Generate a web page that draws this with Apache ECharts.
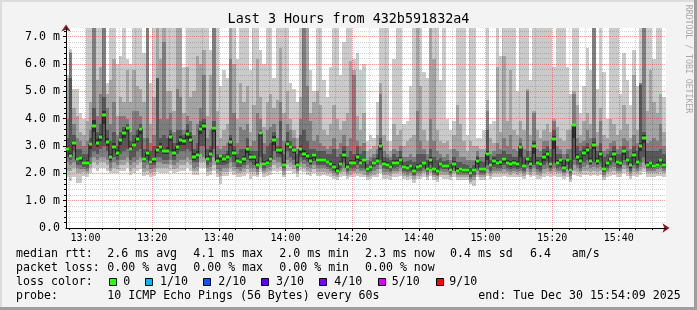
<!DOCTYPE html>
<html><head><meta charset="utf-8">
<script src="https://cdn.jsdelivr.net/npm/echarts@6/dist/echarts.min.js"></script>
<style>html,body{margin:0;padding:0;background:#f3f3f3}#c{width:697px;height:310px}</style>
</head><body><div id="c"></div><script>
// ---- data (ms) ----  column i covers minute [54+i, 55+i] after 12:00
const firstStepStart = 54;
const rangeStart = 54 + 9/60, rangeEnd = 234 + 9/60;
const ping10 = [5.6,6.55,5.1,5.1,4.2,4.0,7.5,7.5,7.5,7.5,7.5,7.5,5.3,7.5,7.5,6.0,6.3,7.5,6.2,6.0,7.5,7.5,7.5,6.4,7.5,5.3,7.5,7.5,7.5,7.5,
7.5,7.5,7.5,7.5,7.5,5.9,7.5,7.5,7.5,7.5,7.5,7.5,7.5,6.5,7.5,7.5,5.2,5.8,5.5,7.5,7.5,6.2,7.5,7.5,7.5,5.8,7.5,7.5,6.5,6.0,
7.5,7.5,5.5,7.5,7.5,7.5,7.5,5.3,5.1,4.6,7.5,7.5,7.5,5.8,5.0,7.5,7.5,5.4,4.8,5.9,7.5,7.5,5.6,6.8,7.5,7.5,6.2,6.4,5.8,6.0,
3.2,3.4,3.3,4.6,7.5,7.5,7.5,3.2,6.2,7.5,7.5,3.8,3.9,5.2,7.5,7.5,7.5,5.7,5.5,7.5,7.5,7.5,5.4,7.5,4.0,3.6,3.9,7.5,7.5,7.5,
3.4,7.5,7.5,3.3,3.3,3.6,7.5,3.8,3.9,7.5,6.3,7.5,7.5,7.5,7.5,5.0,7.5,7.5,7.5,5.4,7.5,7.5,7.5,7.5,7.5,7.5,5.9,7.5,7.5,7.5,
5.9,4.9,7.5,7.5,4.2,5.2,6.6,5.8,7.5,5.1,7.5,5.7,4.0,7.5,7.5,7.5,4.9,6.4,5.4,4.5,6.5,5.2,7.5,7.5,7.5,7.5,6.2,7.5,7.5,4.8];
const ping9 = [5.5,6.45,4.4,4.1,3.5,3.4,3.9,4.6,7.5,5.4,5.9,7.5,4.9,5.4,6.2,4.1,4.8,4.6,5.8,4.6,5.8,5.2,5.1,4.6,7.5,3.8,4.8,7.5,6.2,7.5,
5.0,5.0,4.3,7.5,7.5,4.2,5.9,4.8,5.0,6.3,6.0,6.5,4.1,5.6,7.5,4.3,3.3,3.6,3.8,7.5,6.0,4.0,5.3,4.6,5.2,3.5,4.5,6.2,4.8,3.7,
4.6,4.9,4.4,4.7,6.6,4.2,5.0,4.0,3.6,3.3,4.8,7.5,7.4,4.2,4.6,5.0,4.5,3.6,3.4,3.8,4.5,4.0,3.6,3.9,4.2,6.1,5.8,4.1,3.6,4.2,
2.8,2.9,3.0,3.4,5.3,3.4,3.2,2.8,3.8,3.4,3.6,3.0,3.2,3.3,3.4,7.5,5.2,3.6,3.2,7.5,6.2,3.6,3.2,3.1,3.2,2.9,3.4,4.5,3.8,3.2,
2.8,3.2,3.0,3.0,2.9,2.9,4.7,3.3,3.1,5.9,3.5,6.3,3.9,5.8,3.6,3.4,3.9,3.6,5.1,3.4,4.3,3.6,3.3,3.6,3.8,3.5,4.0,3.7,3.3,3.2,
3.6,3.6,5.0,4.5,3.4,3.9,4.2,3.8,7.5,3.5,4.4,3.4,3.3,4.0,3.8,3.4,3.6,4.5,3.8,3.3,5.6,3.6,5.3,7.5,4.3,5.8,4.6,4.2,4.9,3.5];
const ping8 = [4.0,6.4,3.8,3.3,3.2,3.0,3.2,3.6,7.5,4.1,4.9,7.5,4.4,3.8,4.6,3.4,4.1,4.1,4.0,3.5,4.3,4.3,4.1,3.3,7.5,3.1,3.4,5.5,4.0,6.8,
4.0,4.2,3.5,5.1,4.8,3.6,4.1,3.9,3.4,3.8,4.4,5.6,3.3,3.6,7.5,3.0,2.9,3.0,3.1,6.2,4.2,3.1,3.7,3.6,3.8,3.0,3.2,4.2,4.0,3.1,
3.6,3.7,3.8,3.3,4.6,3.2,3.8,3.6,3.3,2.9,4.0,7.5,5.2,3.9,3.2,3.4,3.1,3.0,2.9,3.0,3.3,2.9,3.1,3.4,3.0,3.3,5.6,3.2,3.0,3.1,
2.5,2.6,2.7,2.9,4.9,2.8,2.7,2.6,2.9,2.8,3.0,2.6,2.6,2.7,2.6,4.3,3.2,2.9,2.7,4.0,3.2,2.8,2.7,2.6,2.7,2.5,2.9,2.8,2.6,2.6,
2.5,2.5,2.5,2.8,2.6,2.6,4.3,2.7,2.8,3.1,2.9,3.3,3.0,3.4,2.9,2.8,3.3,2.9,5.0,2.8,4.2,2.9,2.8,3.2,3.2,2.9,3.9,3.0,2.9,2.7,
2.9,2.9,4.9,3.3,3.1,3.2,3.6,3.3,7.5,3.0,3.9,2.8,2.9,3.1,3.2,2.9,3.0,3.3,3.2,2.9,3.4,3.1,5.3,7.5,3.1,3.2,3.3,3.2,3.8,3.0];
const ping7 = [3.3,5.5,3.4,2.9,2.9,2.7,2.7,3.3,4.4,3.5,3.8,4.8,3.6,3.2,3.5,3.0,3.5,3.7,3.8,3.2,3.4,3.6,3.8,2.9,3.3,2.8,3.0,5.5,3.3,3.4,
3.3,3.6,3.1,3.6,3.6,3.4,3.8,3.5,2.9,3.1,3.9,4.0,2.9,3.0,3.9,2.7,2.7,2.7,2.8,3.4,3.0,2.7,2.9,2.9,3.3,2.8,2.8,2.8,3.6,2.7,
3.0,3.1,3.5,3.0,3.9,2.7,3.5,3.2,3.0,2.7,3.4,3.6,3.2,2.9,2.9,2.8,2.8,2.8,2.7,2.7,2.9,2.6,2.7,3.0,2.6,2.8,2.7,3.0,2.7,2.8,
2.35,2.45,2.55,2.7,3.3,2.6,2.55,2.5,2.7,2.6,2.8,2.4,2.45,2.5,2.4,2.7,2.7,2.7,2.5,2.9,2.6,2.5,2.55,2.45,2.5,2.35,2.6,2.4,2.4,2.35,
2.3,2.2,2.3,2.65,2.45,2.4,3.6,2.5,2.65,2.7,2.7,2.8,2.7,2.7,2.6,2.6,3.1,2.6,2.8,2.6,3.2,2.6,2.6,2.9,3.0,2.6,3.6,2.7,2.7,2.5,
2.7,2.5,3.8,3.0,2.8,3.0,3.1,2.9,3.3,2.8,3.1,2.6,2.7,2.8,3.0,2.7,2.7,3.0,2.8,2.6,3.0,2.8,5.25,3.5,2.8,2.8,2.8,2.8,2.9,2.7];
const ping6 = [3.0,2.75,3.2,2.6,2.65,2.45,2.48,3.15,3.95,3.25,3.45,4.3,3.3,2.7,3.1,2.85,3.3,3.6,3.72,3.0,3.15,3.4,3.7,2.6,2.85,2.5,2.6,2.95,3.1,2.9,
2.95,3.45,2.9,3.1,3.35,3.3,3.6,3.35,2.75,2.8,3.75,3.85,2.65,2.85,3.75,2.55,2.68,2.6,2.7,3.28,2.85,2.55,2.5,2.62,3.0,2.7,2.68,2.4,3.52,2.45,
2.5,2.65,3.35,2.92,2.95,2.4,3.2,3.05,2.92,2.42,3.0,2.85,2.75,2.55,2.75,2.58,2.56,2.58,2.5,2.45,2.35,2.2,2.45,2.8,2.35,2.5,2.48,2.72,2.5,2.58,
2.25,2.32,2.45,2.55,3.1,2.45,2.4,2.32,2.5,2.48,2.6,2.3,2.3,2.35,2.15,2.35,2.38,2.45,2.25,2.6,2.25,2.15,2.42,2.35,2.35,2.2,2.45,2.2,2.25,2.2,
2.2,2.1,2.2,2.55,2.25,2.22,2.8,2.38,2.55,2.48,2.5,2.6,2.48,2.45,2.48,2.45,3.05,2.35,2.6,2.45,3.1,2.48,2.42,2.7,2.82,2.42,3.35,2.48,2.56,2.3,
2.58,2.2,3.8,2.7,2.55,2.85,2.95,2.55,3.15,2.55,2.82,2.25,2.45,2.62,2.82,2.5,2.45,2.9,2.58,2.38,2.78,2.5,3.1,3.4,2.4,2.45,2.35,2.4,2.58,2.4];
const ping5 = [2.8,2.55,3.0,2.45,2.45,2.32,2.3,2.9,3.5,2.95,3.2,3.8,3.0,2.5,2.85,2.65,3.05,3.3,3.5,2.8,2.95,3.15,3.45,2.45,2.65,2.35,2.4,2.75,2.85,2.7,
2.7,3.2,2.65,2.85,3.05,3.05,3.25,3.1,2.5,2.55,3.45,3.6,2.45,2.6,3.5,2.38,2.5,2.42,2.5,3.0,2.62,2.38,2.34,2.42,2.75,2.5,2.5,2.22,3.35,2.28,
2.32,2.45,3.05,2.75,2.72,2.22,2.95,2.85,2.75,2.25,2.75,2.6,2.52,2.36,2.58,2.4,2.4,2.4,2.33,2.27,2.17,2.02,2.27,2.58,2.15,2.3,2.3,2.5,2.3,2.4,
2.1,2.15,2.32,2.38,2.85,2.28,2.25,2.15,2.3,2.32,2.42,2.15,2.12,2.2,2.0,2.15,2.2,2.3,2.1,2.38,2.08,2.0,2.28,2.2,2.2,2.05,2.27,2.02,2.1,2.05,
2.05,1.95,2.05,2.35,2.08,2.08,2.5,2.22,2.35,2.3,2.32,2.4,2.3,2.25,2.3,2.25,2.6,2.2,2.4,2.25,2.7,2.3,2.25,2.45,2.55,2.25,2.9,2.3,2.38,2.12,
2.4,2.05,3.3,2.5,2.36,2.62,2.72,2.36,2.9,2.36,2.6,2.1,2.28,2.45,2.6,2.32,2.28,2.68,2.4,2.2,2.55,2.32,2.8,3.1,2.25,2.3,2.2,2.25,2.4,2.25];
const ping4 = [2.6,2.5,2.8,2.3,2.3,2.25,2.2,2.6,2.8,2.7,2.9,3.0,2.8,2.4,2.6,2.5,2.7,2.8,2.9,2.5,2.6,2.8,2.9,2.4,2.5,2.3,2.3,2.6,2.6,2.5,
2.5,2.8,2.5,2.7,2.8,2.8,2.9,2.8,2.4,2.4,3.0,3.0,2.3,2.4,2.9,2.3,2.3,2.3,2.35,2.6,2.4,2.25,2.25,2.3,2.5,2.4,2.3,2.15,2.6,2.2,
2.3,2.4,2.8,2.6,2.6,2.2,2.8,2.6,2.5,2.2,2.6,2.5,2.4,2.3,2.45,2.3,2.3,2.3,2.25,2.2,2.1,2.0,2.2,2.4,2.1,2.2,2.2,2.3,2.2,2.2,
2.05,2.1,2.25,2.3,2.5,2.2,2.15,2.1,2.2,2.25,2.3,2.1,2.05,2.1,1.95,2.1,2.1,2.2,2.05,2.3,2.0,1.95,2.2,2.15,2.15,2.0,2.2,2.0,2.05,2.0,
2.0,1.85,1.95,2.2,2.0,2.0,2.3,2.1,2.25,2.2,2.2,2.3,2.2,2.15,2.2,2.15,2.2,2.1,2.3,2.15,2.3,2.15,2.1,2.3,2.4,2.2,2.4,2.2,2.25,2.05,
2.3,2.0,2.5,2.3,2.2,2.4,2.5,2.3,2.4,2.3,2.4,2.05,2.2,2.3,2.4,2.2,2.2,2.5,2.3,2.1,2.3,2.2,2.4,2.6,2.2,2.2,2.2,2.25,2.3,2.2];
const ping3 = [2.4,2.3,2.4,2.2,2.15,2.15,2.1,2.35,2.6,2.5,2.6,2.6,2.5,2.2,2.4,2.3,2.5,2.5,2.6,2.3,2.4,2.5,2.6,2.2,2.3,2.15,2.2,2.4,2.4,2.35,
2.35,2.5,2.3,2.4,2.5,2.5,2.6,2.5,2.2,2.25,2.7,2.6,2.2,2.25,2.6,2.15,2.1,2.2,2.2,2.4,2.25,2.15,2.1,2.2,2.3,2.2,2.2,2.05,2.4,2.1,
2.2,2.25,2.5,2.4,2.4,2.1,2.5,2.4,2.3,2.1,2.4,2.35,2.25,2.2,2.3,2.2,2.2,2.2,2.15,2.1,2.0,1.95,2.1,2.2,2.0,2.1,2.1,2.15,2.1,2.1,
1.95,2.0,2.1,2.15,2.3,2.05,2.05,2.0,2.1,2.1,2.2,2.0,1.95,2.0,1.9,2.0,2.0,2.1,1.95,2.15,1.95,1.9,2.1,2.05,2.05,1.95,2.1,1.95,1.95,1.95,
1.95,1.8,1.85,2.1,1.95,1.95,2.15,2.0,2.1,2.1,2.1,2.15,2.1,2.05,2.1,2.05,2.1,2.0,2.2,2.05,2.2,2.05,2.0,2.15,2.2,2.1,2.2,2.1,2.1,2.0,
2.15,1.9,2.3,2.2,2.1,2.25,2.3,2.2,2.25,2.2,2.25,1.95,2.1,2.2,2.25,2.1,2.1,2.3,2.2,2.0,2.2,2.1,2.25,2.4,2.1,2.1,2.1,2.15,2.2,2.1];
const ping2 = [2.1,2.1,2.2,2.0,2.0,2.05,2.0,2.2,2.4,2.3,2.4,2.4,2.3,2.1,2.2,2.15,2.3,2.3,2.4,2.1,2.2,2.3,2.4,2.05,2.1,2.0,2.05,2.2,2.2,2.2,
2.2,2.3,2.15,2.2,2.3,2.3,2.4,2.3,2.1,2.1,2.4,2.4,2.05,2.1,2.3,2.0,1.9,2.05,2.05,2.2,2.1,2.0,2.0,2.05,2.15,2.05,2.05,1.95,2.2,2.0,
2.05,2.1,2.3,2.2,2.25,1.95,2.3,2.25,2.15,2.0,2.25,2.2,2.1,2.05,2.15,2.05,2.05,2.05,2.0,2.0,1.9,1.85,2.0,2.05,1.9,1.95,2.0,2.0,2.0,1.95,
1.85,1.9,1.95,2.0,2.15,1.95,1.95,1.9,2.0,2.0,2.05,1.9,1.85,1.9,1.8,1.9,1.9,2.0,1.85,2.0,1.85,1.8,1.95,1.95,1.95,1.85,2.0,1.85,1.85,1.85,
1.85,1.7,1.75,1.95,1.85,1.85,2.0,1.9,2.0,2.0,2.0,2.0,2.0,1.95,2.0,1.95,2.0,1.9,2.05,1.95,2.05,1.95,1.9,2.0,2.05,2.0,2.05,2.0,2.0,1.9,
2.0,1.8,2.1,2.05,2.0,2.1,2.1,2.05,2.1,2.05,2.1,1.85,2.0,2.05,2.1,2.0,2.0,2.15,2.05,1.9,2.05,2.0,2.1,2.2,2.0,2.0,2.0,2.0,2.05,2.0];
const ping1 = [1.85,1.72,1.85,1.65,1.65,1.9,1.85,2.0,2.2,2.1,2.2,2.2,2.1,2.0,2.0,2.0,2.1,2.1,2.2,1.95,2.0,2.1,2.15,1.9,1.95,1.85,1.9,2.05,2.0,2.0,
2.0,2.1,2.0,2.05,2.1,2.1,2.2,2.1,1.95,1.95,2.2,2.2,1.9,1.95,2.1,1.85,1.6,1.9,1.9,2.05,1.95,1.85,1.85,1.9,2.0,1.8,1.9,1.85,2.05,1.85,
1.9,1.95,2.1,2.05,2.1,1.85,2.1,2.1,2.0,1.85,2.1,2.05,1.95,1.9,2.0,1.9,1.9,1.95,1.9,1.85,1.8,1.75,1.85,1.9,1.8,1.85,1.85,1.9,1.85,1.85,
1.75,1.8,1.85,1.85,2.0,1.8,1.8,1.75,1.85,1.85,1.9,1.8,1.75,1.8,1.65,1.8,1.8,1.85,1.75,1.9,1.75,1.7,1.85,1.8,1.8,1.75,1.85,1.75,1.75,1.75,
1.75,1.6,1.55,1.85,1.75,1.75,1.9,1.8,1.85,1.85,1.85,1.9,1.85,1.85,1.85,1.85,1.85,1.8,1.95,1.85,1.9,1.8,1.8,1.85,1.9,1.85,1.9,1.85,1.85,1.8,
1.85,1.7,1.95,1.9,1.85,1.95,1.95,1.9,1.95,1.9,1.95,1.75,1.85,1.9,1.95,1.85,1.85,2.0,1.9,1.8,1.9,1.85,1.95,2.05,1.85,1.85,1.85,1.9,1.9,1.85];
const medianRtt = [2.90,2.63,3.12,2.51,2.55,2.39,2.39,3.06,3.73,3.10,3.32,4.12,3.15,2.60,2.96,2.76,3.21,3.49,3.66,2.90,3.04,3.27,3.63,2.51,2.73,2.41,2.51,2.84,2.96,2.80,
2.82,3.34,2.76,2.96,3.21,3.18,3.43,3.22,2.61,2.67,3.63,3.74,2.54,2.72,3.66,2.46,2.62,2.51,2.60,3.15,2.74,2.46,2.41,2.51,2.88,2.60,2.60,2.30,3.46,2.35,
2.39,2.54,3.22,2.84,2.85,2.29,3.09,2.96,2.84,2.32,2.88,2.72,2.63,2.44,2.67,2.48,2.48,2.48,2.41,2.34,2.24,2.07,2.35,2.68,2.22,2.39,2.39,2.61,2.39,2.48,
2.17,2.23,2.39,2.46,3.00,2.35,2.32,2.23,2.39,2.39,2.50,2.23,2.21,2.26,2.07,2.23,2.27,2.38,2.17,2.48,2.15,2.07,2.35,2.27,2.27,2.12,2.35,2.09,2.17,2.12,
2.12,2.02,2.12,2.45,2.15,2.15,2.70,2.30,2.45,2.39,2.41,2.51,2.39,2.35,2.39,2.35,2.98,2.27,2.51,2.35,3.00,2.39,2.33,2.60,2.72,2.33,3.24,2.38,2.48,2.20,
2.49,2.11,3.77,2.60,2.45,2.76,2.85,2.45,3.05,2.45,2.72,2.17,2.37,2.54,2.72,2.41,2.37,2.80,2.49,2.29,2.67,2.41,3.00,3.29,2.32,2.37,2.27,2.32,2.48,2.32];
// ticks (minutes after 12:00, ms)
const xMajorTicks = [60,80,100,120,140,160,180,200,220];
const xMinorTicks = [55,65,70,75,85,90,95,105,110,115,125,130,135,145,150,155,165,170,175,185,190,195,205,210,215,225,230];
const yMajorTicks = [0,1,2,3,4,5,6,7];
const yMajorGrid = [1,2,3,4,5,6,7];
const yMinorTicks = [0.2,0.4,0.6,0.8,1.2,1.4,1.6,1.8,2.2,2.4,2.6,2.8,3.2,3.4,3.6,3.8,4.2,4.4,4.6,4.8,5.2,5.4,5.6,5.8,6.2,6.4,6.6,6.8,7.2];
const yMax = 7.32;
const lossLabels = ['0','1/10','2/10','3/10','4/10','5/10','9/10'];
const lossColors = ['#26ff00','#00b8ff','#0059ff','#5e00ff','#7e00ff','#dd00ff','#ff0000'];
const smokeColors = ['#cacaca','#a4a4a4','#7e7e7e','#585858','#323232'];

const MONO = '"DejaVu Sans Mono", "Liberation Mono", monospace';
const chart = echarts.init(document.getElementById('c'), null, {renderer:'canvas', width:697, height:310});

const smokeData = medianRtt.map((m, i) => [firstStepStart + i, firstStepStart + i + 1,
  ping1[i], ping2[i], ping3[i], ping4[i], ping5[i], ping6[i], ping7[i], ping8[i], ping9[i], ping10[i]]);
const medData = medianRtt.map((m, i) => [firstStepStart + i, firstStepStart + i + 1, m]);
const lineData = medianRtt.map((m, i) => [firstStepStart + i, m]);
lineData.push([firstStepStart + medianRtt.length, medianRtt[medianRtt.length - 1]]);

function clipTo(r, cs) {
  return echarts.graphic.clipRectByRect(r, {x: cs.x, y: cs.y, width: cs.width, height: cs.height});
}
function renderSmoke(params, api) {
  const cs = params.coordSys;
  const xa = Math.round(api.coord([api.value(0), 0])[0]);
  const xb = Math.round(api.coord([api.value(1), 0])[0]);
  const children = [];
  for (let b = 0; b < 5; b++) {
    const lo = api.value(2 + b), hi = api.value(11 - b);
    const yt = Math.round(api.coord([api.value(0), Math.max(lo, hi)])[1]);
    const yb = Math.round(api.coord([api.value(0), Math.min(lo, hi)])[1]);
    const r = clipTo({x: xa, y: yt, width: xb - xa, height: Math.max(1, yb - yt)}, cs);
    if (r) children.push({type: 'rect', shape: r, style: {fill: smokeColors[b]}});
  }
  return {type: 'group', children};
}
function renderMed(params, api) {
  const cs = params.coordSys;
  const p = api.coord([api.value(0), api.value(2)]);
  const xa = Math.round(p[0]);
  const xb = Math.round(api.coord([api.value(1), api.value(2)])[0]);
  const r = clipTo({x: xa, y: Math.round(p[1]) - 1.5, width: xb - xa, height: 3}, cs);
  return r ? {type: 'rect', shape: r, style: {fill: lossColors[0]}} : null;
}
function fmtTime(v) {
  const h = 12 + Math.floor(v / 60), m = Math.round(v % 60);
  return h + ':' + (m < 10 ? '0' : '') + m;
}
function txt(text, x, y, size, extra) {
  return Object.assign({type: 'text', x: x, y: y, silent: true, z: 100,
    style: {text: text, font: size + 'px ' + MONO, fill: '#000', align: 'left', verticalAlign: 'middle'}}, extra || {});
}

const graphics = [
  {type:'rect', shape:{x:0,y:0,width:697,height:2}, style:{fill:'#dcdcdc'}, silent:true, z:-1},
  {type:'rect', shape:{x:0,y:0,width:2,height:310}, style:{fill:'#dcdcdc'}, silent:true, z:-1},
  {type:'rect', shape:{x:0,y:307,width:697,height:3}, style:{fill:'#9e9e9e'}, silent:true, z:-1},
  {type:'rect', shape:{x:694,y:0,width:3,height:310}, style:{fill:'#9e9e9e'}, silent:true, z:-1},
  txt('Last 3 Hours from 432b591832a4', 348.5, 19.5, 13.4, {}),
  txt('RRDTOOL / TOBI OETIKER', 688, 59, 8.2, {rotation: -Math.PI/2})
];
graphics[4].style.align = 'center';
graphics[5].style.align = 'center';
graphics[5].style.fill = '#a8a8a8';
const LS = 11.6;
const rowsY = [254.3, 268.3, 282.3, 296.2];
[['median rtt:',16],['2.6 ms avg',107.3],['4.1 ms max',193.3],['2.0 ms min',279.3],['2.3 ms now',365],['0.4 ms sd',450],['6.4',530],['am/s',571.7]]
  .forEach(s => graphics.push(txt(s[0], s[1], rowsY[0], LS)));
[['packet loss:',16],['0.00 % avg',107.3],['0.00 % max',193.3],['0.00 % min',279.3],['0.00 % now',365]]
  .forEach(s => graphics.push(txt(s[0], s[1], rowsY[1], LS)));
graphics.push(txt('loss color:', 16, rowsY[2], LS));
const boxX = [109.5, 145.5, 203.5, 261.5, 319.5, 378.5, 436.5];
const lblX = [123.3, 160, 218.3, 276, 334.3, 391.7, 449.3];
lossLabels.forEach((l, i) => {
  graphics.push({type:'rect', shape:{x: boxX[i], y: 278.5, width: 7, height: 7}, style:{fill: lossColors[i], stroke:'#000', lineWidth:1}, silent:true, z:100});
  graphics.push(txt(l, lblX[i], rowsY[2], LS));
});
graphics.push(txt('probe:', 16, rowsY[3], LS));
graphics.push(txt('10 ICMP Echo Pings (56 Bytes) every 60s', 107.3, rowsY[3], LS));
graphics.push(txt('end: Tue Dec 30 15:54:09 2025', 478.3, rowsY[3], LS));

const MINOR_GRID = 'rgba(0,0,0,0.17)';
const MAJOR_GRID = 'rgba(255,0,0,0.36)';
const ARROW = '#8b1a1a';
const option = {
  animation: false,
  backgroundColor: '#f3f3f3',
  grid: {left: 66, top: 28, width: 600, height: 200, show: true, backgroundColor: '#ffffff', borderWidth: 0, containLabel: false, outerBoundsMode: 'none'},
  xAxis: [
    {type: 'value', min: rangeStart, max: rangeEnd, z: 5,
     axisLine: {show: true, onZero: false, lineStyle: {color: '#000', width: 1}},
     axisTick: {show: true, customValues: xMinorTicks, length: 2, lineStyle: {color: '#000'}},
     axisLabel: {customValues: xMajorTicks, formatter: fmtTime, fontFamily: MONO, fontSize: 10, color: '#000', margin: 5},
     splitLine: {show: true, lineStyle: {color: MINOR_GRID, width: 1, type: [1, 1]}}},
    {type: 'value', min: rangeStart, max: rangeEnd, z: 4, position: 'bottom',
     axisLine: {show: true, onZero: false, symbol: ['none', 'arrow'], symbolSize: [7, 7], symbolOffset: [0, 3.5], lineStyle: {color: ARROW, width: 1}},
     axisLabel: {show: false},
     axisTick: {show: true, customValues: xMajorTicks, length: 3, lineStyle: {color: '#000'}},
     splitLine: {show: true, lineStyle: {color: MAJOR_GRID, width: 1, type: [1, 1]}}}
  ],
  yAxis: [
    {type: 'value', min: 0, max: yMax, z: 5,
     axisLine: {show: true, onZero: false, lineStyle: {color: '#000', width: 1}},
     axisTick: {show: true, customValues: yMinorTicks, length: 2, lineStyle: {color: '#000'}},
     axisLabel: {customValues: yMajorTicks, formatter: v => v === 0 ? '0.0' : v.toFixed(1) + ' m', fontFamily: MONO, fontSize: 11.6, color: '#000', margin: 6},
     splitLine: {show: true, lineStyle: {color: MINOR_GRID, width: 1, type: [1, 1]}}},
    {type: 'value', min: 0, max: yMax, z: 4, position: 'left',
     axisLine: {show: true, onZero: false, symbol: ['none', 'arrow'], symbolSize: [7, 7], symbolOffset: [0, 3.5], lineStyle: {color: ARROW, width: 1}},
     axisLabel: {show: false},
     axisTick: {show: true, customValues: yMajorGrid, length: 3, lineStyle: {color: '#000'}},
     splitLine: {show: true, lineStyle: {color: MAJOR_GRID, width: 1, type: [1, 1]}}}
  ],
  series: [
    {type: 'custom', name: 'smoke', xAxisIndex: 0, yAxisIndex: 0, z: 1, silent: true,
     renderItem: renderSmoke, encode: {x: [0, 1], y: [2, 11]}, data: smokeData},
    {type: 'line', name: 'median', xAxisIndex: 0, yAxisIndex: 0, z: 6, step: 'end', showSymbol: false, symbol: 'none', silent: true,
     lineStyle: {color: '#202020', width: 1}, data: lineData},
    {type: 'custom', name: 'loss', xAxisIndex: 0, yAxisIndex: 0, z: 7, silent: true,
     renderItem: renderMed, encode: {x: [0, 1], y: 2}, data: medData}
  ],
  graphic: graphics
};
chart.setOption(option);
</script></body></html>
